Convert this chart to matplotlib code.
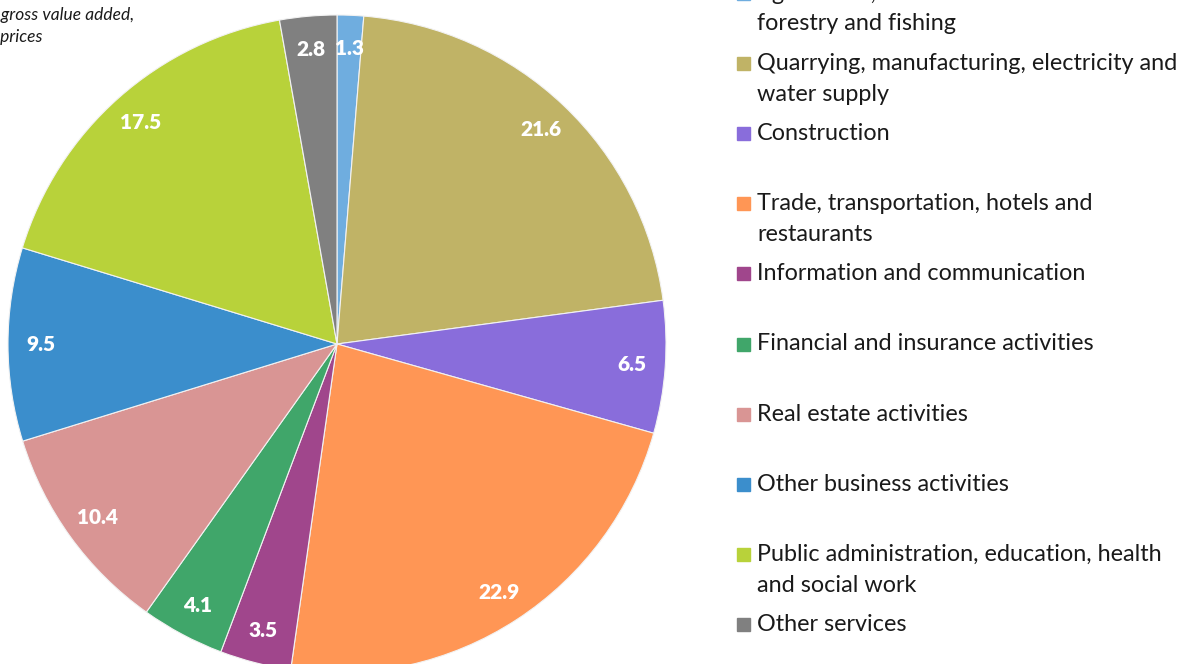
import numpy as np
import matplotlib
matplotlib.use('Agg')
import matplotlib.pyplot as plt
from matplotlib.patches import Rectangle

# Share in gross value added (%), by activity
sectors = [
    'Agriculture,\nforestry and fishing',
    'Quarrying, manufacturing, electricity and\nwater supply',
    'Construction',
    'Trade, transportation, hotels and\nrestaurants',
    'Information and communication',
    'Financial and insurance activities',
    'Real estate activities',
    'Other business activities',
    'Public administration, education, health\nand social work',
    'Other services',
]
shares = [1.3, 21.6, 6.5, 22.9, 3.5, 4.1, 10.4, 9.5, 17.5, 2.8]
colors = ['#6FADDF', '#C0B366', '#896DDB', '#FF9655', '#A0468C',
          '#40A66A', '#D99594', '#3B8ECC', '#B8D23A', '#808080']

W, H = 1183, 664
fig = plt.figure(figsize=(W / 100, H / 100), dpi=100)
plt.rcParams['font.family'] = ['Lato', 'DejaVu Sans']

# pie axes in pixel terms: centre (337, 344), radius 329
cx, cy, r = 337, 344, 329
ax = fig.add_axes([(cx - r) / W, (H - cy - r) / H, 2 * r / W, 2 * r / H])
wedges, _ = ax.pie(shares, colors=colors, startangle=90, counterclock=False,
                   wedgeprops=dict(edgecolor='#F2F2F2', linewidth=0.8))
ax.set_xlim(-1, 1)
ax.set_ylim(-1, 1)
ax.axis('off')

# value labels near the outer edge of each slice
for w, v in zip(wedges, shares):
    ang = np.deg2rad((w.theta1 + w.theta2) / 2)
    ax.text(0.9 * np.cos(ang), 0.9 * np.sin(ang), f'{v:.1f}',
            ha='center', va='center', color='white',
            fontsize=15, fontweight='heavy')

# legend drawn by hand to match the spacing
y0, step, line_h = -7, 70.2, 31
for i, (lab, col) in enumerate(zip(sectors, colors)):
    y = y0 + i * step
    fig.patches.append(Rectangle((737 / W, 1 - (y + 6.5) / H), 13 / W, 13 / H,
                                 transform=fig.transFigure, color=col))
    for k, line in enumerate(lab.split('\n')):
        fig.text(757 / W, 1 - (y + k * line_h) / H, line, ha='left',
                 va='center', fontsize=16.8, color='#1a1a1a')

# cut-off note in the top-left corner
fig.text(134 / W, 1 - 15 / H, 'Share in gross value added,', ha='right',
         va='center', fontsize=12.5, style='italic', color='#1a1a1a')
fig.text(42 / W, 1 - 37 / H, 'at current prices', ha='right',
         va='center', fontsize=12.5, style='italic', color='#1a1a1a')

fig.savefig('out.png', dpi=100)
